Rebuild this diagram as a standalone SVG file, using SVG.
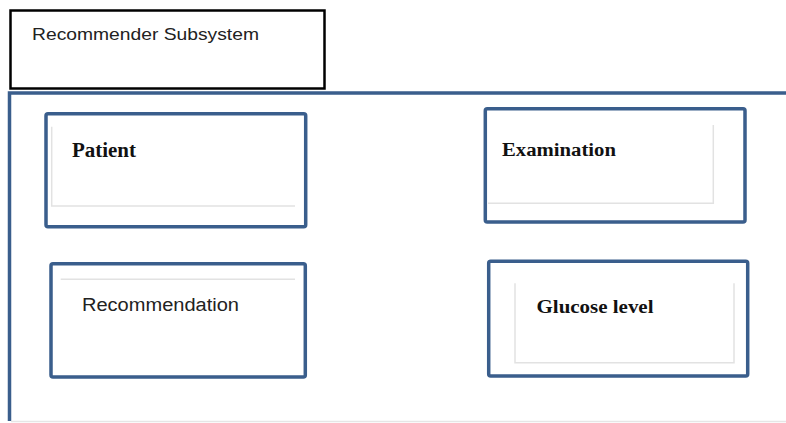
<svg xmlns="http://www.w3.org/2000/svg" width="786" height="423" viewBox="0 0 786 423">
  <style>
    .box { fill: #ffffff; stroke: #3A5E8C; stroke-width: 3.5; }
    .inner { fill: none; stroke: #E2E2E2; stroke-width: 1.5; }
    .sans { font-family: "Liberation Sans", Arial, sans-serif; fill: #222222; }
    .serif { font-family: "Liberation Serif", "Times New Roman", serif; font-weight: bold; fill: #111111; }
  </style>
  <rect x="0" y="0" width="786" height="423" fill="#ffffff"/>

  <!-- subsystem frame -->
  <g id="frame">
    <path d="M9.5 421 V93 H786" fill="none" stroke="#3A5E8C" stroke-width="3.5"/>
    <line x1="11" y1="421.5" x2="786" y2="421.5" stroke="#E6E6E6" stroke-width="1.5"/>
  </g>

  <!-- title tab -->
  <g id="title">
    <rect x="10.5" y="10.5" width="314" height="78" fill="#ffffff" stroke="#000000" stroke-width="2.5"/>
    <text class="sans" x="32" y="40" font-size="17" textLength="227" lengthAdjust="spacingAndGlyphs">Recommender Subsystem</text>
  </g>

  <g id="patient">
    <rect class="box" x="46" y="113.7" width="259.7" height="113" rx="2"/>
    <path class="inner" d="M51.7 126.7 V206 H295"/>
    <text class="serif" x="72" y="157" font-size="20" textLength="64" lengthAdjust="spacingAndGlyphs">Patient</text>
  </g>

  <g id="examination">
    <rect class="box" x="485.3" y="108.7" width="259.7" height="113.3" rx="2"/>
    <path class="inner" d="M713.3 125 V203.3 H488"/>
    <text class="serif" x="502" y="155.5" font-size="18" textLength="114" lengthAdjust="spacingAndGlyphs">Examination</text>
  </g>

  <g id="recommendation">
    <rect class="box" x="51" y="263.7" width="254.3" height="113.3" rx="2"/>
    <line class="inner" x1="60.7" y1="279.3" x2="295" y2="279.3"/>
    <text class="sans" x="82" y="311" font-size="18" textLength="157" lengthAdjust="spacingAndGlyphs">Recommendation</text>
  </g>

  <g id="glucose-level">
    <rect class="box" x="488.7" y="261.3" width="259" height="114.7" rx="2"/>
    <path class="inner" d="M515 283.3 V362.7 H734 V283.3"/>
    <text class="serif" x="536.5" y="313.3" font-size="19" textLength="117" lengthAdjust="spacingAndGlyphs">Glucose level</text>
  </g>

  <g id="connectors"></g>
</svg>
